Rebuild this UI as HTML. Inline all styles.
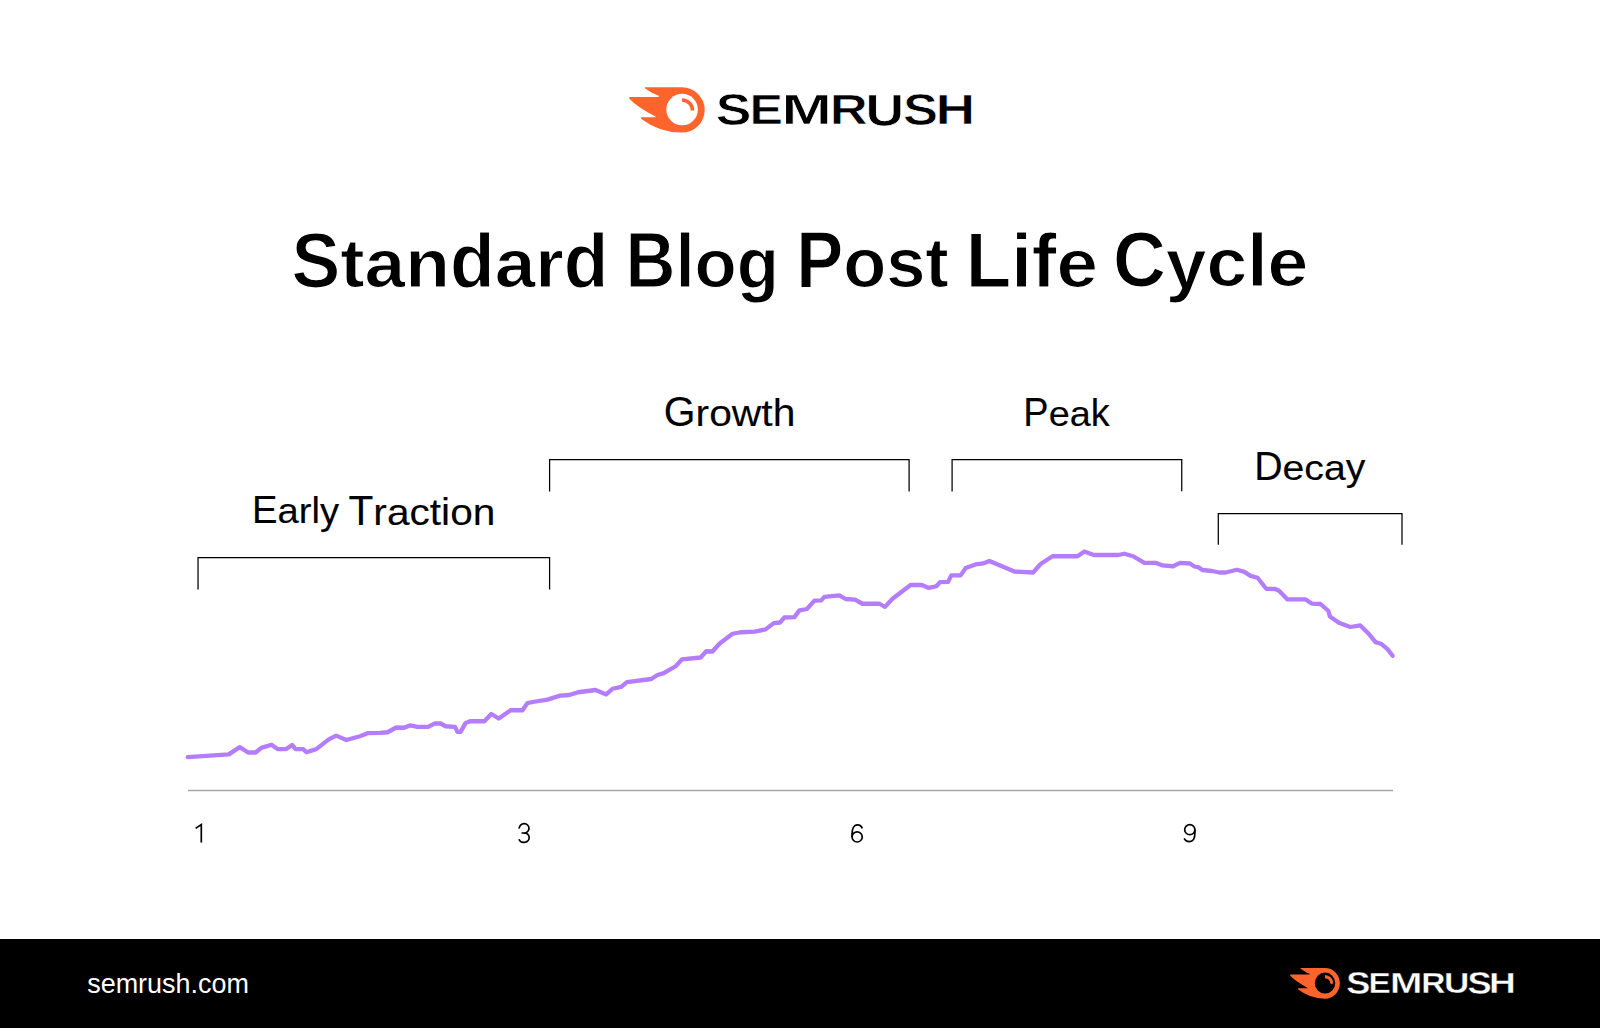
<!DOCTYPE html>
<html><head><meta charset="utf-8">
<style>
html,body{margin:0;padding:0;background:#fff;}
body{width:1600px;height:1028px;position:relative;overflow:hidden;font-family:"Liberation Sans",sans-serif;color:#000;}
.t{position:absolute;white-space:nowrap;line-height:1;transform-origin:0 0;}
.c{display:inline-block;transform-origin:50% 0.845em;}
.footer{position:absolute;left:0;top:939px;width:1600px;height:89px;background:#000;}
svg{position:absolute;left:0;top:0;}
</style></head><body>

<!-- top logo icon -->
<svg width="1600" height="1028" viewBox="0 0 1600 1028">
  <g transform="translate(620,80) scale(0.0625)">
    <path fill="#ff642d" d="M402 117 L992 117 A362.4 362.4 0 0 1 1355.2 479.2 A362.4 362.4 0 0 1 992 841.6 Q640 845 336 619 Q328 606 345 597 L573 597 L573 588 Q266 428 147 295 Q138 272 160 270 L620 270 L620 250 Q500 210 404 135 Q392 117 402 117 Z"/>
    <circle cx="993.6" cy="472.8" r="252" fill="#fff"/>
    <path d="M992 320 A168 168 0 0 1 1160 488" fill="none" stroke="#ff642d" stroke-width="56"/>
  </g>
</svg>

<!-- brackets -->
<svg width="1600" height="1028" viewBox="0 0 1600 1028">
<g fill="none" stroke="#000" stroke-width="1.25">
<path d="M198.05 589.6 V557.5 H549.6 V589.6"/>
<path d="M549.6 491.4 V459.5 H909.1 V491.4"/>
<path d="M952.1 491.4 V459.5 H1181.75 V491.3"/>
<path d="M1218.3 544.8 V513.5 H1402 V544.8"/>
</g>
</svg>
<!-- axis -->
<svg width="1600" height="1028" viewBox="0 0 1600 1028"><line x1="188" y1="790.5" x2="1393" y2="790.5" stroke="#a8a8a8" stroke-width="1.35"/></svg>

<svg width="1600" height="1028" viewBox="0 0 1600 1028">
<polyline fill="none" stroke="#b37dfe" stroke-width="4.3" stroke-linejoin="round" stroke-linecap="round" points="187.75,757.1 228.75,754.4 239.75,747.1 248.1,752.5 255.6,752.5 261.25,747.9 271.5,744.75 277.5,749.1 286.25,749.1 292.1,745 295.6,749.1 303.1,749.1 306.5,752.25 316.25,749.1 328.75,739.4 336.25,735.6 346.25,740 360,736.25 368.1,733.1 380,732.9 387.5,732.25 396.25,727.5 403.75,727.75 410,725.4 417.5,726.9 428.1,726.9 435,723.4 440.6,723.5 445.6,726.25 455,726.9 457.5,731.9 460.6,731.9 465.6,722.9 470,721.25 484.4,721.25 491.25,714 498.75,718.5 510.6,710.25 522.5,710.25 527.5,703.1 531.25,702.25 547.5,699.6 560,695.6 569.4,695 578.1,692.25 595.6,690 606.25,694.4 612.5,688.75 621.25,686.9 626.9,682.1 651.25,679 657.5,675 663.75,673.1 675.6,666.25 681.9,659.4 700.6,657.5 706.25,651.25 712.5,651.5 719.4,643.75 732.5,633.75 740.6,632.25 755,631.6 765.6,629.4 773.75,623.1 780,622.5 784.4,617.5 794.4,617.1 799.4,610.4 806.9,609 814.4,600.6 821.25,600.4 824.4,596.9 839.4,595.4 845.6,599 855,599.6 862.5,603.75 879.4,603.75 885,606.9 892.5,598.75 910.6,585 921.9,585 928.75,587.9 936.25,586.25 940,582.1 948.1,581.9 951.25,575.4 960.6,575.4 965.6,568.1 975.6,564.4 983.1,563.4 989.4,560.9 1014.4,571.6 1033.1,572.5 1040.6,564 1052.5,556.25 1077.5,556.25 1084.4,551.5 1093.75,555 1118.1,555 1124.4,553.75 1133.1,556.25 1144.4,562.9 1156.25,562.9 1162.5,565.4 1173.1,566.25 1180,562.9 1190,563.5 1194.4,566.5 1198.1,567.1 1202.5,570 1211.9,571 1219.4,572.5 1225.6,572.5 1236.9,569.75 1244.4,571.9 1250.6,575.9 1257.5,577.75 1266.25,588.75 1275,589 1278.75,590.6 1287.5,599.4 1305.6,599.4 1311.7,603.6 1320.6,604 1328.4,611 1329.9,616.4 1338.9,622.7 1350.2,627 1360.3,625.4 1369.2,634.3 1375.5,642.1 1380.9,643.7 1387.5,649.1 1392.6,655.7"/>
</svg>

<svg width="1600" height="1028" viewBox="0 0 1600 1028">
<g fill="none" stroke="#000" stroke-width="1.7">
<path d="M195.6 828.4 L201.3 824.6 L201.3 842.5"/>
<path d="M519.2 828.6 A4.9 4.7 0 1 1 523.2 833.0 M521.5 833 L524 833 A5.3 4.7 0 1 1 518.9 839.3"/>
<path d="M862.3 828.4 C861.5 826.2 859.8 824.85 857.5 824.85 C853.6 824.85 852.05 829.5 852.05 834 L852.05 837"/>
<ellipse cx="857.15" cy="836.95" rx="5.1" ry="5.05"/>
<path d="M1194.9 829.7 L1194.9 833 C1194.9 838.5 1192.8 841.55 1189.5 841.55 C1186.9 841.55 1185 840.3 1184.2 838.4"/>
<ellipse cx="1189.8" cy="829.7" rx="5.1" ry="5.0"/>
</g>
</svg>
<div class="footer"></div>

<svg width="1600" height="1028" viewBox="0 0 1600 1028">
  <g transform="translate(1284.07,963.04) scale(0.0412,0.0424)">
    <path fill="#ff642d" d="M402 117 L992 117 A362.4 362.4 0 0 1 1355.2 479.2 A362.4 362.4 0 0 1 992 841.6 Q640 845 336 619 Q328 606 345 597 L573 597 L573 588 Q266 428 147 295 Q138 272 160 270 L620 270 L620 250 Q500 210 404 135 Q392 117 402 117 Z"/>
    <circle cx="993.6" cy="472.8" r="248" fill="#000"/>
    <path d="M992 320 A168 168 0 0 1 1160 488" fill="none" stroke="#ff642d" stroke-width="72"/>
  </g>
</svg>

<div class="t" style="left:0;top:0;font-size:44px;font-weight:bold;color:#000;transform:translate(715.84px,88.15px) scale(1.2147,0.9927);-webkit-text-stroke:0.7px #fff;">S</div>
<div class="t" style="left:0;top:0;font-size:42px;font-weight:bold;color:#000;transform:translate(749.48px,88.56px) scale(1.1950,1.0028);-webkit-text-stroke:0.7px #fff;">E</div>
<div class="t" style="left:0;top:0;font-size:42px;font-weight:bold;color:#000;transform:translate(781.40px,88.56px) scale(1.4386,1.0028);-webkit-text-stroke:0.7px #fff;">M</div>
<div class="t" style="left:0;top:0;font-size:42px;font-weight:bold;color:#000;transform:translate(829.85px,88.56px) scale(1.2527,1.0028);-webkit-text-stroke:0.7px #fff;">R</div>
<div class="t" style="left:0;top:0;font-size:44px;font-weight:bold;color:#000;transform:translate(865.48px,88.87px) scale(1.2149,1.0026);-webkit-text-stroke:0.7px #fff;">U</div>
<div class="t" style="left:0;top:0;font-size:44px;font-weight:bold;color:#000;transform:translate(903.09px,88.31px) scale(1.1915,0.9904);-webkit-text-stroke:0.7px #fff;">S</div>
<div class="t" style="left:0;top:0;font-size:42px;font-weight:bold;color:#000;transform:translate(935.45px,89.02px) scale(1.3105,0.9925);-webkit-text-stroke:0.7px #fff;">H</div>
<div class="t" style="left:0;top:0;font-size:31px;font-weight:bold;color:#fff;transform:translate(1346.23px,968.04px) scale(1.1653,0.9892);-webkit-text-stroke:0.4px #000;">S</div>
<div class="t" style="left:0;top:0;font-size:29px;font-weight:bold;color:#fff;transform:translate(1368.49px,968.70px) scale(1.1512,1.0006);-webkit-text-stroke:0.4px #000;">E</div>
<div class="t" style="left:0;top:0;font-size:29px;font-weight:bold;color:#fff;transform:translate(1390.02px,968.70px) scale(1.3399,1.0006);-webkit-text-stroke:0.4px #000;">M</div>
<div class="t" style="left:0;top:0;font-size:29px;font-weight:bold;color:#fff;transform:translate(1421.23px,968.70px) scale(1.1567,1.0006);-webkit-text-stroke:0.4px #000;">R</div>
<div class="t" style="left:0;top:0;font-size:29px;font-weight:bold;color:#fff;transform:translate(1444.09px,968.83px) scale(1.2109,0.9895);-webkit-text-stroke:0.4px #000;">U</div>
<div class="t" style="left:0;top:0;font-size:31px;font-weight:bold;color:#fff;transform:translate(1467.53px,968.01px) scale(1.1677,0.9911);-webkit-text-stroke:0.4px #000;">S</div>
<div class="t" style="left:0;top:0;font-size:29px;font-weight:bold;color:#fff;transform:translate(1489.12px,968.70px) scale(1.2798,1.0006);-webkit-text-stroke:0.4px #000;">H</div>
<div class="t" style="left:0;top:0;font-size:76px;font-weight:bold;color:#000;transform:translate(291.41px,223.18px) scale(0.9624,0.9958);-webkit-text-stroke:1.2px #fff;"><span class="c" style="transform:scaleY(1.035)">S</span><span class="c" style="transform:scaleY(0.915)">t</span><span class="c" style="transform:scaleY(0.915)">a</span><span class="c" style="transform:scaleY(0.915)">n</span><span class="c">d</span><span class="c" style="transform:scaleY(0.915)">a</span><span class="c" style="transform:scaleY(0.915)">r</span><span class="c">d</span></div>
<div class="t" style="left:0;top:0;font-size:76px;font-weight:bold;color:#000;transform:translate(625.50px,222.77px) scale(0.9091,0.9967);-webkit-text-stroke:1.2px #fff;"><span class="c" style="transform:scaleY(1.035)">B</span><span class="c">l</span><span class="c" style="transform:scaleY(0.915)">o</span><span class="c" style="transform:translateY(0.01447em) scaleY(0.9443)">g</span></div>
<div class="t" style="left:0;top:0;font-size:77px;font-weight:bold;color:#000;transform:translate(796.14px,221.78px) scale(0.9149,0.9965);-webkit-text-stroke:1.2px #fff;"><span class="c" style="transform:scaleY(1.035)">P</span><span class="c" style="transform:scaleY(0.915)">o</span><span class="c" style="transform:scaleY(0.915)">s</span><span class="c" style="transform:scaleY(0.915)">t</span></div>
<div class="t" style="left:0;top:0;font-size:75px;font-weight:bold;color:#000;transform:translate(965.65px,223.80px) scale(0.9923,1.0007);-webkit-text-stroke:1.2px #fff;"><span class="c" style="transform:scaleY(1.035)">L</span><span class="c">i</span><span class="c">f</span><span class="c" style="transform:scaleY(0.915)">e</span></div>
<div class="t" style="left:0;top:0;font-size:74px;font-weight:bold;color:#000;transform:translate(1112.90px,224.21px) scale(0.9891,1.0035);-webkit-text-stroke:1.2px #fff;"><span class="c" style="transform:scaleY(1.035)">C</span><span class="c" style="transform:translateY(0.01447em) scaleY(0.9443)">y</span><span class="c" style="transform:scaleY(0.915)">c</span><span class="c">l</span><span class="c" style="transform:scaleY(0.915)">e</span></div>
<div class="t" style="left:0;top:0;font-size:38px;font-weight:normal;color:#000;transform:translate(252.09px,491.08px) scale(1.0045,0.9952);-webkit-text-stroke:0.12px #000;"><span class="c" style="transform:scaleY(1.05)">E</span><span class="c" style="transform:scaleY(0.922)">a</span><span class="c" style="transform:scaleY(0.922)">r</span><span class="c">l</span><span class="c" style="transform:translateY(0.01664em) scaleY(0.9564)">y</span></div>
<div class="t" style="left:0;top:0;font-size:40px;font-weight:normal;color:#000;transform:translate(348.55px,491.11px) scale(1.0155,0.9914);-webkit-text-stroke:0.12px #000;"><span class="c" style="transform:scaleY(1.05)">T</span><span class="c" style="transform:scaleY(0.922)">r</span><span class="c" style="transform:scaleY(0.922)">a</span><span class="c" style="transform:scaleY(0.922)">c</span><span class="c" style="transform:scaleY(0.92)">t</span><span class="c">i</span><span class="c" style="transform:scaleY(0.922)">o</span><span class="c" style="transform:scaleY(0.922)">n</span></div>
<div class="t" style="left:0;top:0;font-size:40px;font-weight:normal;color:#000;transform:translate(663.85px,391.91px) scale(1.0194,0.9914);-webkit-text-stroke:0.12px #000;"><span class="c" style="transform:scaleY(1.05)">G</span><span class="c" style="transform:scaleY(0.922)">r</span><span class="c" style="transform:scaleY(0.922)">o</span><span class="c" style="transform:scaleY(0.922)">w</span><span class="c" style="transform:scaleY(0.92)">t</span><span class="c">h</span></div>
<div class="t" style="left:0;top:0;font-size:39px;font-weight:normal;color:#000;transform:translate(1023.36px,393.12px) scale(0.9715,0.9946);-webkit-text-stroke:0.12px #000;"><span class="c" style="transform:scaleY(1.05)">P</span><span class="c" style="transform:scaleY(0.922)">e</span><span class="c" style="transform:scaleY(0.922)">a</span><span class="c">k</span></div>
<div class="t" style="left:0;top:0;font-size:38px;font-weight:normal;color:#000;transform:translate(1254.13px,447.78px) scale(1.0319,1.0001);-webkit-text-stroke:0.12px #000;"><span class="c" style="transform:scaleY(1.05)">D</span><span class="c" style="transform:scaleY(0.922)">e</span><span class="c" style="transform:scaleY(0.922)">c</span><span class="c" style="transform:scaleY(0.922)">a</span><span class="c" style="transform:translateY(0.01664em) scaleY(0.9564)">y</span></div>
<div class="t" style="left:0;top:0;font-size:27px;font-weight:normal;color:#fff;transform:translate(87.18px,970.84px) scale(0.9976,0.9948);">semrush.com</div>
</body></html>
